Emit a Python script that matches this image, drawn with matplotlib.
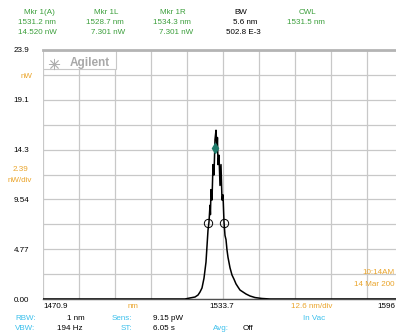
import matplotlib
matplotlib.use("Agg")
import matplotlib.pyplot as plt
from matplotlib.patches import Rectangle

plt.rcParams['font.family'] = ['Liberation Sans', 'DejaVu Sans']

# spectrum trace (nm, nW)
wavelength = [1470.9, 1500.0, 1520.6, 1522.35, 1524.1, 1525.15, 1525.85, 1526.55,
              1527.25, 1527.95, 1528.65, 1529.0, 1529.35, 1529.5, 1529.7, 1530.05,
              1530.4, 1530.75, 1531.1, 1531.45, 1531.8, 1531.95, 1532.15, 1532.5,
              1532.85, 1533.2, 1533.55, 1533.9, 1534.25, 1534.6, 1534.95, 1535.3,
              1535.65, 1536.0, 1536.35, 1537.05, 1537.75, 1538.45, 1539.15, 1539.85,
              1540.9, 1541.95, 1543.35, 1545.1, 1547.55, 1550.35, 1575.0, 1596.9]
power = [0.0, 0.0, 0.0, 0.1, 0.19, 0.38, 0.67, 1.06,
         2.0, 3.55, 6.6, 7.4, 9.0, 8.1, 10.5, 9.5,
         12.9, 11.9, 15.3, 16.2, 14.3, 15.5, 12.9, 13.8,
         10.9, 12.9, 9.5, 10.0, 7.4, 6.1, 5.7, 4.7,
         4.0, 3.5, 3.0, 2.3, 1.9, 1.45, 1.15, 0.86,
         0.67, 0.48, 0.29, 0.14, 0.05, 0.0, 0.0, 0.0]

# markers
mkr_peak = (1531.2, 14.520)
mkr_left = (1528.7, 7.301)
mkr_right = (1534.3, 7.301)

x_start, x_div = 1470.9, 12.6
y_div = 2.39
y_labels = ["0.00", "", "4.77", "", "9.54", "", "14.3", "", "19.1", "", "23.9"]
x_labels = ["1470.9", "1533.7", "1596"]

green = '#3a9e3a'
orange = '#eaa42a'
cyan = '#3cc0ec'
W, H = 396, 334

fig = plt.figure(figsize=(W / 100, H / 100), dpi=100)
# the screen's grid runs past the right edge of the picture
ax = fig.add_axes([43 / W, 35 / H, 360 / W, 249 / H])

x_ticks = [x_start + k * x_div for k in range(11)]
y_ticks = [k * y_div for k in range(11)]
ax.set_xlim(x_ticks[0], x_ticks[-1])
ax.set_ylim(0, y_ticks[-1])
ax.set_xticks(x_ticks)
ax.set_xticklabels([])
ax.set_yticks(y_ticks)
ax.set_yticklabels(y_labels, fontsize=5.8)
ax.tick_params(length=0, pad=10)
ax.grid(True, color='#c8c8c8', linewidth=0.9)
for s in ['right', 'left']:
    ax.spines[s].set_visible(False)
ax.spines['top'].set_color('#b4b4b4')
ax.spines['top'].set_linewidth(2.0)
ax.spines['bottom'].set_color('#505050')
ax.spines['bottom'].set_linewidth(1.0)

ax.plot(wavelength, power, color='black', linewidth=1.1, zorder=3)
ax.plot(*mkr_peak, marker='d', markersize=5, color='#1f7a6a', zorder=4)
for m in (mkr_left, mkr_right):
    ax.plot(*m, marker='o', markersize=6, markerfacecolor='none',
            markeredgecolor='black', markeredgewidth=0.7, zorder=4)

# Agilent logo box
ax.add_patch(Rectangle((0, 0.925), 73 / 360, 0.075, transform=ax.transAxes,
                       facecolor='white', edgecolor='#c8c8c8', linewidth=0.8, zorder=2))
ax.plot([(54 - 43) / 360], [1 - 14 / 249], transform=ax.transAxes,
        marker=(8, 2, 0), markersize=8, color='#b0b0b0', markeredgewidth=0.6, zorder=3)
fig.text(70 / W, 1 - 63 / H, 'Agilent', fontsize=8.5, fontweight='bold',
         color='#a8a8a8', va='center', ha='left')


def t(x, y, s, color='black', ha='center', size=5.8):
    fig.text(x / W, 1 - y / H, s, color=color, ha=ha, va='center', fontsize=size)


# header
t(39, 13, 'Mkr 1(A)', green)
t(37, 23, '1531.2 nm', green)
t(37, 33, '14.520 nW', green)
t(106, 13, 'Mkr 1L', green)
t(105, 23, '1528.7 nm', green)
t(108, 33, '7.301 nW', green)
t(173, 13, 'Mkr 1R', green)
t(172, 23, '1534.3 nm', green)
t(176, 33, '7.301 nW', green)
t(241, 13, 'BW')
t(245, 23, '5.6 nm')
t(243, 33, '502.8 E-3')
t(307, 13, 'CWL', green)
t(306, 23, '1531.5 nm', green)

# y annotations
t(32, 76, 'nW', orange, ha='right')
t(20, 169, '2.39', orange)
t(20, 180, 'nW/div', orange)

# x axis labels
t(43, 306, x_labels[0], ha='left')
t(222, 306, x_labels[1])
t(395, 306, x_labels[2], ha='right')
t(133, 306, 'nm', orange)
t(312, 306, '12.6 nm/div', orange)

# date/time
t(395, 272, '10:14AM', orange, ha='right')
t(395, 285, '14 Mar 200', orange, ha='right')

# bottom settings
t(15, 319, 'RBW:', cyan, ha='left')
t(67, 319, '1 nm', ha='left')
t(112, 319, 'Sens:', cyan, ha='left')
t(153, 319, '9.15 pW', ha='left')
t(303, 319, 'In Vac', cyan, ha='left')
t(15, 328.5, 'VBW:', cyan, ha='left')
t(57, 328.5, '194 Hz', ha='left')
t(121, 328.5, 'ST:', cyan, ha='left')
t(153, 328.5, '6.05 s', ha='left')
t(213, 328.5, 'Avg:', cyan, ha='left')
t(243, 328.5, 'Off', ha='left')

fig.savefig('out.png', dpi=100)
